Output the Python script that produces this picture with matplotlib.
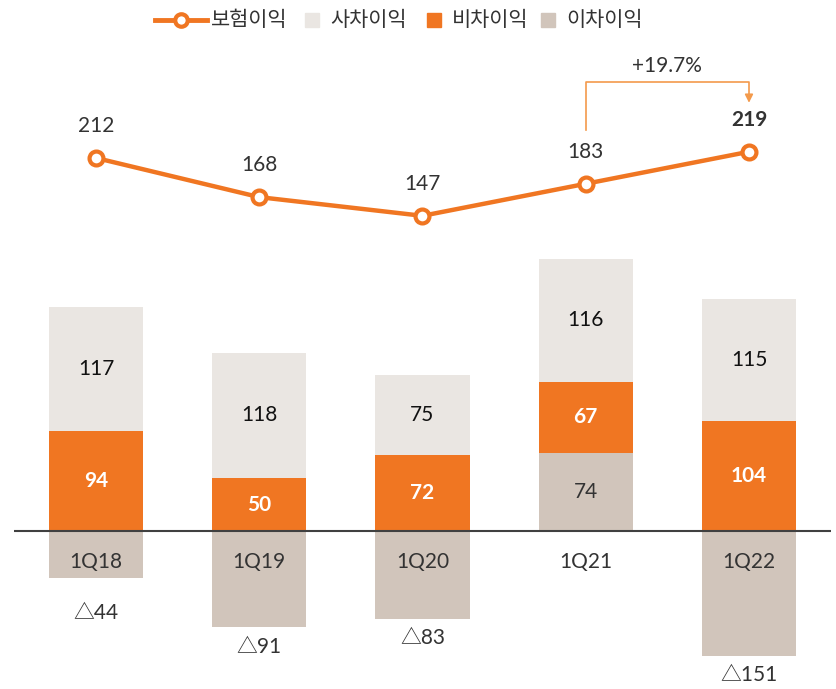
import numpy as np
import matplotlib
matplotlib.use("Agg")
import matplotlib.pyplot as plt
from matplotlib.lines import Line2D
from matplotlib.patches import Rectangle

plt.rcParams["font.family"] = ["Lato", "Noto Sans CJK KR", "DejaVu Sans"]

# ── data ──
quarters = ["1Q18", "1Q19", "1Q20", "1Q21", "1Q22"]
insurance_profit = [212, 168, 147, 183, 219]   # 보험이익 (line)
mortality_gain = [117, 118, 75, 116, 115]      # 사차이익
expense_gain = [94, 50, 72, 67, 104]           # 비차이익
interest_gain = [-44, -91, -83, 74, -151]      # 이차이익

ORANGE = "#F07622"
LIGHT = "#EAE6E2"
TAUPE = "#D1C5BB"
TXT = "#333333"
BRACKET = "#F39A4C"

W, H = 836, 689
fig = plt.figure(figsize=(W / 100, H / 100), dpi=100)

# bar axes: spans figure width, bottom edge at pixel 656 (clips the 1Q22 bar)
ax = fig.add_axes([0, 33 / H, 1, 1 - 33 / H])
ax.set_xlim(-0.588, 4.533)
ax.set_ylim(-117.9, 501)
ax.axis("off")

x = np.arange(len(quarters))
bw = 0.576
mort = np.array(mortality_gain)
exp_ = np.array(expense_gain)
intr = np.array(interest_gain)

pos_int = np.where(intr > 0, intr, 0)
ax.bar(x, intr, bw, color=TAUPE, zorder=2)
ax.bar(x, exp_, bw, bottom=pos_int, color=ORANGE, zorder=2)
ax.bar(x, mort, bw, bottom=pos_int + exp_, color=LIGHT, zorder=2)

ax.hlines(0, -0.5, 4.5, color="#404040", lw=1.5, zorder=3)

FS = 15
ylo = ax.get_ylim()[0]
for i in range(len(quarters)):
    ax.text(x[i], pos_int[i] + exp_[i] + mort[i] / 2, f"{mort[i]}",
            ha="center", va="center", fontsize=FS, color="#111111")
    ax.text(x[i], pos_int[i] + exp_[i] / 2, f"{exp_[i]}",
            ha="center", va="center", fontsize=FS, color="white",
            fontweight="bold")
    if intr[i] > 0:
        ax.text(x[i], intr[i] / 2, f"{intr[i]}", ha="center", va="center",
                fontsize=FS, color=TXT)
    else:
        bot = max(intr[i], ylo)
        ax.text(x[i], min(bot, -59) - 18, f"\u25b3{-intr[i]}",
                ha="center", va="center", fontsize=FS, color=TXT,
                clip_on=False)
    ax.text(x[i], -29, quarters[i], ha="center", va="center",
            fontsize=FS, color=TXT)

# line axes
ax2 = ax.twinx()
ax2.set_position(ax.get_position())
ax2.set_ylim(-347.6, 389.5)
ax2.axis("off")
ax2.plot(x, insurance_profit, color=ORANGE, lw=3.2, marker="o",
         markersize=10, markerfacecolor="white", markeredgecolor=ORANGE,
         markeredgewidth=3, zorder=4)
for i, v in enumerate(insurance_profit):
    last = i == len(insurance_profit) - 1
    ax2.annotate(f"{v}", (x[i], v), xytext=(0, 23), textcoords="offset points",
                 ha="center", va="center", fontsize=FS,
                 color=TXT, fontweight="bold" if last else "normal")

# growth bracket 1Q21 -> 1Q22
growth = (insurance_profit[4] / insurance_profit[3] - 1) * 100
y_start, y_top, y_tip = 243.5, 297.5, 274.0
ax2.plot([x[3], x[3], x[4], x[4]], [y_start, y_top, y_top, y_tip + 8],
         color=BRACKET, lw=1.2, zorder=4)
ax2.annotate("", xy=(x[4], y_tip), xytext=(x[4], y_tip + 9),
             arrowprops=dict(arrowstyle="-|>", color=BRACKET, lw=1.2,
                             mutation_scale=12, shrinkA=0, shrinkB=0))
ax2.text((x[3] + x[4]) / 2, y_top + 18, f"+{growth:.1f}%", ha="center",
         va="center", fontsize=FS, color=TXT)

# legend (manual)
def fx(px):
    return px / W

def fy(py):
    return 1 - py / H

ly = fy(20)
fig.add_artist(Line2D([fx(155), fx(207)], [ly, ly], color=ORANGE, lw=3.5))
fig.add_artist(Line2D([fx(181)], [ly], marker="o", markersize=9,
                      markerfacecolor="white", markeredgecolor=ORANGE,
                      markeredgewidth=3))
fig.text(fx(211), ly, "보험이익", ha="left", va="center", fontsize=15, color=TXT)
for cx, col, lab in [(312, LIGHT, "사차이익"), (434, ORANGE, "비차이익"),
                     (548, TAUPE, "이차이익")]:
    fig.add_artist(Rectangle((fx(cx - 7), fy(27)), fx(14), 14 / H,
                             color=col, transform=fig.transFigure))
    fig.text(fx(cx + 18), ly, lab, ha="left", va="center", fontsize=15,
             color=TXT)

fig.savefig("out.png", dpi=100)
